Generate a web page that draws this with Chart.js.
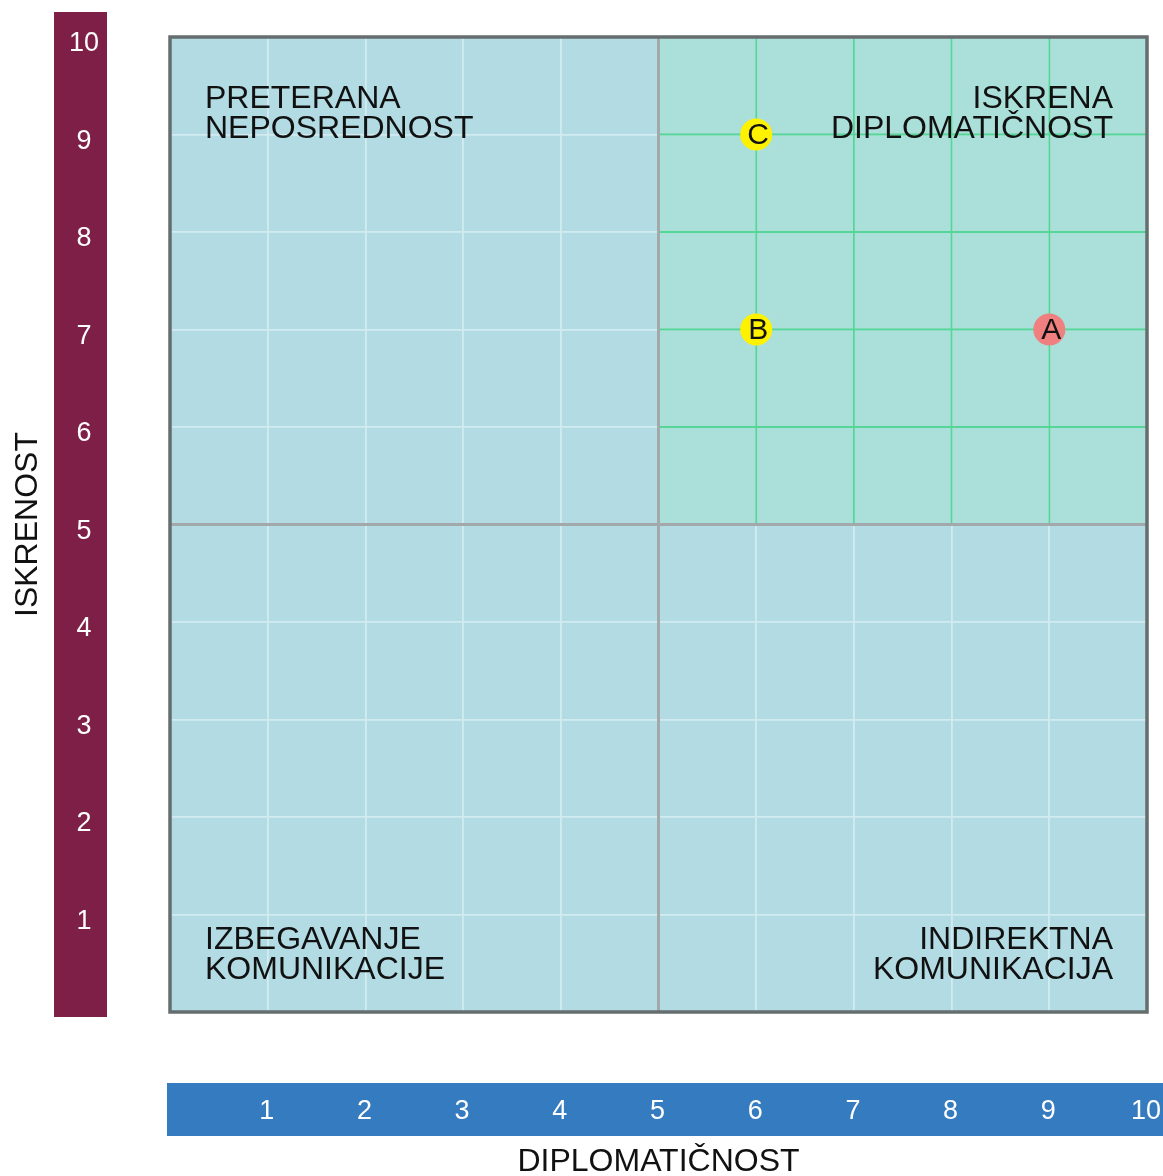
<!DOCTYPE html>
<html>
<head>
<meta charset="utf-8">
<script src="https://cdn.jsdelivr.net/npm/chart.js@4"></script>
<style>
html,body{margin:0;padding:0;background:#fff;}
#wrap{width:1163px;height:1176px;position:relative;}
</style>
</head>
<body>
<div id="wrap"><canvas id="c"></canvas></div>
<script>
// ---- data ----
const pointNames = ['A', 'B', 'C'];
const diplomaticnost = [9, 6, 6];
const iskrenost = [7, 7, 9];
const xTickValues = [1, 2, 3, 4, 5, 6, 7, 8, 9, 10];
const yTickValues = [1, 2, 3, 4, 5, 6, 7, 8, 9, 10];
const xTitle = 'DIPLOMATIČNOST';
const yTitle = 'ISKRENOST';
const quadrantTopLeft = ['PRETERANA', 'NEPOSREDNOST'];
const quadrantTopRight = ['ISKRENA', 'DIPLOMATIČNOST'];
const quadrantBottomLeft = ['IZBEGAVANJE', 'KOMUNIKACIJE'];
const quadrantBottomRight = ['INDIREKTNA', 'KOMUNIKACIJA'];

const FONT = '"Liberation Sans", Arial, sans-serif';

const decor = {
  id: 'decor',
  beforeDraw(chart) {
    const {ctx, chartArea: a, scales: {x, y}} = chart;
    ctx.save();
    ctx.fillStyle = '#B2DBE3';
    ctx.fillRect(a.left, a.top, a.right - a.left, a.bottom - a.top);
    const mx = x.getPixelForValue(5), my = y.getPixelForValue(5);
    ctx.fillStyle = '#ABDFD9';
    ctx.fillRect(mx, a.top, a.right - mx, my - a.top);
    ctx.fillStyle = '#7E1F47';
    ctx.fillRect(54, y.getPixelForValue(10) - 25, 53, y.getPixelForValue(0) - y.getPixelForValue(10) + 30);
    ctx.fillStyle = '#357BBF';
    ctx.fillRect(x.getPixelForValue(0) - 3, 1083, chart.width - x.getPixelForValue(0) + 3, 53);
    ctx.restore();
  },
  beforeDatasetsDraw(chart) {
    const {ctx, chartArea: a, scales: {x, y}} = chart;
    const mx = x.getPixelForValue(5), my = y.getPixelForValue(5);
    ctx.save();
    ctx.strokeStyle = '#55D697';
    ctx.lineWidth = 1.8;
    for (const v of xTickValues) {
      if (v > 5 && v < 10) {
        const px = x.getPixelForValue(v);
        ctx.beginPath(); ctx.moveTo(px, a.top); ctx.lineTo(px, my); ctx.stroke();
      }
    }
    for (const v of yTickValues) {
      if (v > 5 && v < 10) {
        const py = y.getPixelForValue(v);
        ctx.beginPath(); ctx.moveTo(mx, py); ctx.lineTo(a.right, py); ctx.stroke();
      }
    }
    ctx.strokeStyle = '#A3A9AB';
    ctx.lineWidth = 3;
    ctx.beginPath(); ctx.moveTo(mx, a.top); ctx.lineTo(mx, a.bottom); ctx.stroke();
    ctx.beginPath(); ctx.moveTo(a.left, my); ctx.lineTo(a.right, my); ctx.stroke();
    ctx.strokeStyle = '#666D6E';
    ctx.lineWidth = 3.5;
    ctx.strokeRect(a.left, a.top, a.right - a.left, a.bottom - a.top);

    ctx.fillStyle = '#111';
    ctx.font = '32px ' + FONT;
    ctx.textBaseline = 'alphabetic';
    const lh = 30;
    ctx.textAlign = 'left';
    quadrantTopLeft.forEach((t, i) => ctx.fillText(t, a.left + 35, a.top + 71 + i * lh));
    quadrantBottomLeft.forEach((t, i) => ctx.fillText(t, a.left + 35, a.bottom - 63 + i * lh));
    ctx.textAlign = 'right';
    quadrantTopRight.forEach((t, i) => ctx.fillText(t, a.right - 34, a.top + 71 + i * lh));
    quadrantBottomRight.forEach((t, i) => ctx.fillText(t, a.right - 34, a.bottom - 63 + i * lh));

    ctx.fillStyle = '#ffffff';
    ctx.font = '27px ' + FONT;
    ctx.textAlign = 'center';
    ctx.textBaseline = 'middle';
    for (const v of yTickValues) {
      ctx.fillText(String(v), 84, y.getPixelForValue(v) + 7);
    }
    for (const v of xTickValues) {
      ctx.fillText(String(v), x.getPixelForValue(v) - 1, 1112);
    }
    ctx.fillStyle = '#111';
    ctx.font = '32px ' + FONT;
    ctx.fillText(xTitle, (x.getPixelForValue(0) + x.getPixelForValue(10)) / 2, 1162);
    ctx.translate(28, (y.getPixelForValue(0) + y.getPixelForValue(10)) / 2);
    ctx.rotate(-Math.PI / 2);
    ctx.fillText(yTitle, 0, 0);
    ctx.restore();
  },
  afterDatasetsDraw(chart) {
    const {ctx} = chart;
    const meta = chart.getDatasetMeta(0);
    ctx.save();
    ctx.fillStyle = '#111';
    ctx.font = '30px ' + FONT;
    ctx.textAlign = 'center';
    ctx.textBaseline = 'middle';
    meta.data.forEach((pt, i) => {
      ctx.fillText(pointNames[i], pt.x + 2, pt.y + 1);
    });
    ctx.restore();
  }
};

new Chart(document.getElementById('c'), {
  type: 'scatter',
  data: {
    datasets: [{
      data: diplomaticnost.map((v, i) => ({x: v, y: iskrenost[i]})),
      pointRadius: 16,
      pointHoverRadius: 16,
      pointBorderWidth: 0,
      pointBackgroundColor: ['#F08080', '#FFF200', '#FFF200'],
      pointBorderColor: 'transparent'
    }]
  },
  options: {
    responsive: true,
    maintainAspectRatio: false,
    animation: false,
    devicePixelRatio: 1,
    layout: {padding: {left: 170, top: 37, right: 16, bottom: 164}},
    plugins: {legend: {display: false}, tooltip: {enabled: false}},
    events: [],
    scales: {
      x: {
        type: 'linear', min: 0, max: 10,
        ticks: {display: false, stepSize: 1},
        grid: {color: '#D2EBF0', lineWidth: 1.8, drawTicks: false},
        border: {display: false}
      },
      y: {
        type: 'linear', min: 0, max: 10,
        ticks: {display: false, stepSize: 1},
        grid: {color: '#D2EBF0', lineWidth: 1.8, drawTicks: false},
        border: {display: false}
      }
    }
  },
  plugins: [decor]
});
</script>
</body>
</html>
